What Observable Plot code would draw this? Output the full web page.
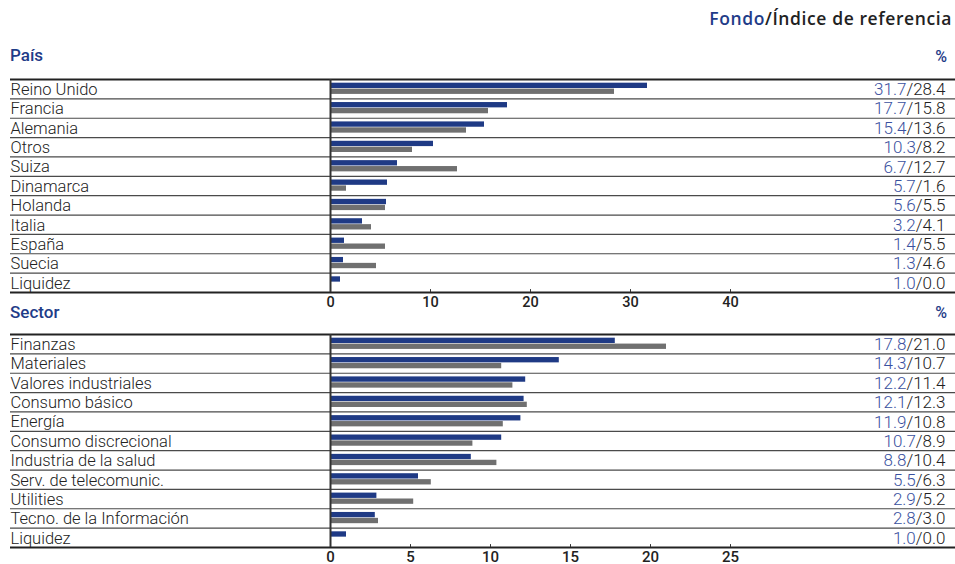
<!DOCTYPE html>
<html><head><meta charset="utf-8">
<script src="https://cdn.jsdelivr.net/npm/d3@7"></script>
<script src="https://cdn.jsdelivr.net/npm/@observablehq/plot@0.6"></script>
<style>
body{margin:0;background:#fff;width:955px;height:564px;position:relative;overflow:hidden;font-family:Roboto,sans-serif;}
.abs{position:absolute;white-space:nowrap;}
.hdr{font-weight:500;color:#1f3c88;font-size:17px;line-height:20px;}
</style></head><body>
<div class="abs" style="right:3px;top:8px;font-family:'Open Sans',sans-serif;font-weight:600;font-size:17.5px;letter-spacing:0.6px;line-height:20px;color:#222"><span style="color:#1f3c88">Fondo</span>/Índice de referencia</div>
<div class="abs hdr" style="left:10px;top:45px">País</div>
<div class="abs hdr" style="right:8px;top:47px;font-size:16px">%</div>
<div id="c1" class="abs" style="left:0;top:72px"></div>
<div class="abs hdr" style="left:10px;top:302px">Sector</div>
<div class="abs hdr" style="right:8px;top:303px;font-size:16px">%</div>
<div id="c2" class="abs" style="left:0;top:327px"></div>
<script>
const paisCategorias = ["Reino Unido","Francia","Alemania","Otros","Suiza","Dinamarca","Holanda","Italia","España","Suecia","Liquidez"];
const paisFondo  = [31.7,17.7,15.4,10.3,6.7,5.7,5.6,3.2,1.4,1.3,1.0];
const paisIndice = [28.4,15.8,13.6,8.2,12.7,1.6,5.5,4.1,5.5,4.6,0.0];
const paisTicks  = [0,10,20,30,40];

const sectorCategorias = ["Finanzas","Materiales","Valores industriales","Consumo básico","Energía","Consumo discrecional","Industria de la salud","Serv. de telecomunic.","Utilities","Tecno. de la Información","Liquidez"];
const sectorFondo  = [17.8,14.3,12.2,12.1,11.9,10.7,8.8,5.5,2.9,2.8,1.0];
const sectorIndice = [21.0,10.7,11.4,12.3,10.8,8.9,10.4,6.3,5.2,3.0,0.0];
const sectorTicks  = [0,5,10,15,20,25];

const AZUL = "#1f3a85", GRIS = "#707070", AZUL_TXT = "#3a51a0";

function panel(cats, fondo, indice, ticks, xDomain, tickFont, tickDy, marginBottom) {
  const n = cats.length;
  const rows = cats.map((c, i) => ({i, cat: c, fondo: fondo[i], indice: indice[i]}));
  const svg = Plot.plot({
    width: 955, height: 7 + 213 + marginBottom,
    marginTop: 7, marginBottom, marginLeft: 10, marginRight: 0,
    x: {domain: xDomain, axis: null},
    y: {domain: [0, n], reverse: true, axis: null},
    style: {background: "white", fontFamily: "Roboto, sans-serif", overflow: "visible"},
    marks: [
      Plot.rect(rows, {x1: 0, x2: "fondo", y1: d => d.i + 0.19, y2: d => d.i + 0.465, fill: AZUL}),
      Plot.rect(rows, {x1: 0, x2: "indice", y1: d => d.i + 0.495, y2: d => d.i + 0.77, fill: GRIS}),
      Plot.ruleY(d3.range(1, n), {stroke: "#4a4a4a", strokeWidth: 1.2}),
      Plot.ruleY([0, n], {stroke: "#222", strokeWidth: 2}),
      Plot.ruleX([0], {y1: 0, y2: n, stroke: "#333", strokeWidth: 2}),
      Plot.ruleX(ticks.slice(1), {x: d => d, y1: n - 0.15, y2: n, stroke: "#333", strokeWidth: 1}),
      Plot.text(ticks, {x: d => d, y: n, lineAnchor: "middle", dy: tickDy, fontSize: tickFont, fontWeight: 500, fill: "#222"}),
      Plot.text(rows, {y: d => d.i + 0.5, text: "cat", frameAnchor: "left", textAnchor: "start", dy: 0.5, fontSize: 16.5, fontWeight: 300, fill: "#222"}),
      Plot.text(rows, {y: d => d.i + 0.5, text: d => d.fondo.toFixed(1) + "/" + d.indice.toFixed(1), frameAnchor: "right", textAnchor: "end", dx: -10, dy: 0.5, fontSize: 17, fontWeight: 300, fill: "#222"})
    ]
  });
  d3.select(svg).selectAll("text").each(function() {
    const t = this.textContent;
    if (!/^\d+\.\d\/\d+\.\d$/.test(t)) return;
    const k = t.indexOf("/");
    const sel = d3.select(this);
    sel.text(null);
    sel.append("tspan").attr("fill", AZUL_TXT).text(t.slice(0, k));
    sel.append("tspan").attr("fill", "#222").text(t.slice(k));
  });
  return svg;
}

document.getElementById("c1").append(panel(paisCategorias, paisFondo, paisIndice, paisTicks, [-32, 62.5], 14.5, 10, 20));
document.getElementById("c2").append(panel(sectorCategorias, sectorFondo, sectorIndice, sectorTicks, [-20, 945 / 16 - 20], 15, 9.5, 17));
</script>
</body></html>
